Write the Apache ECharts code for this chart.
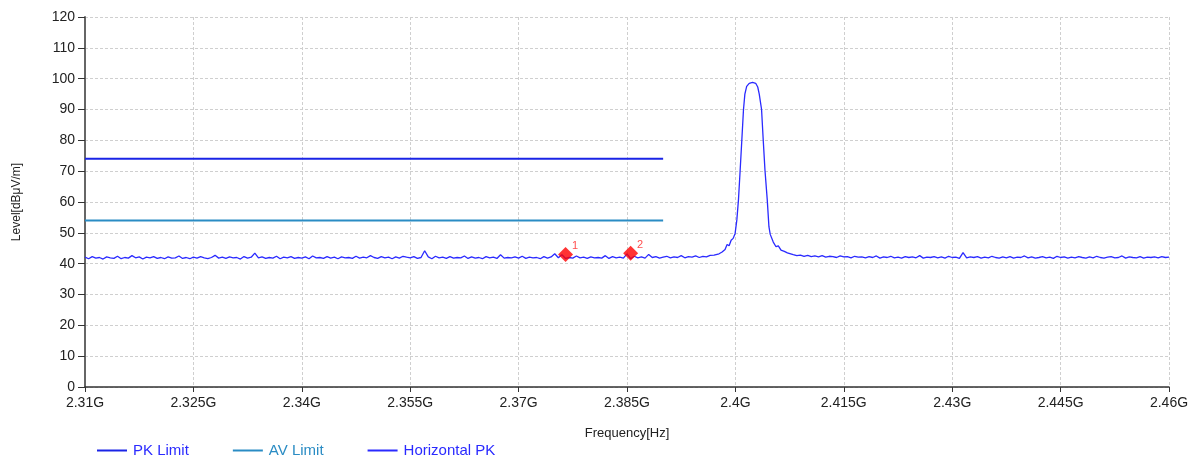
<!DOCTYPE html>
<html>
<head>
<meta charset="utf-8">
<script src="https://cdn.jsdelivr.net/npm/echarts@6/dist/echarts.min.js"></script>
<style>
html,body{margin:0;padding:0;background:#fff;}
#chart{width:1197px;height:459px;}
</style>
</head>
<body>
<div id="chart"></div>
<script>
// ---- data ----
const xTickMin = 2.31, xTickMax = 2.46, xTickStep = 0.015;
const yTickMin = 0, yTickMax = 120, yTickStep = 10;

const pkLimitLevel = 74;
const avLimitLevel = 54;
const limitStartGHz = 2.31;
const limitEndGHz = 2.39;

// sweep points (GHz): noise before the carrier
const sweepStepGHz = 0.0005;
const noiseLeftStartGHz = 2.31;
const noiseLeftLevels = [
42.1,41.6,42.3,41.8,42.0,41.5,42.2,41.9,41.7,42.4,41.6,42.0,41.8,42.6,41.9,42.2,41.5,42.1,41.9,42.3,
41.7,42.0,41.6,42.2,41.8,41.9,42.5,41.7,42.0,41.6,42.1,41.8,42.3,41.9,41.6,42.0,42.7,41.8,42.1,41.7,
42.2,41.9,42.0,41.5,42.3,41.8,42.1,43.4,41.9,42.2,41.7,42.0,41.8,42.4,41.6,42.1,41.9,42.3,41.7,42.0,
41.8,42.2,41.6,42.5,41.9,42.0,41.7,42.3,41.8,42.1,41.6,42.2,41.9,42.0,41.7,42.4,41.8,42.1,41.9,42.6,
42.0,41.7,42.3,41.9,42.1,41.6,42.2,41.8,42.4,42.1,41.9,42.3,41.7,42.0,44.2,42.2,41.6,42.4,41.9,42.1,
41.7,42.3,41.8,42.0,41.9,42.5,41.7,42.2,41.8,42.0,41.6,42.3,41.9,42.1,41.7,42.9,41.8,42.0,41.9,42.2,
41.8,42.4,41.7,42.1,41.9,42.0,41.6,42.3,41.8,42.2,43.2,41.9,42.9,41.7,42.0,41.8,42.5,41.9,42.1,41.7,
42.2,41.9,42.0,41.8,42.6,41.7,42.3,41.9,42.1,41.8,43.2,41.6,42.4,41.9,42.2,41.8,43.0,42.0,42.3,41.8,
42.1,42.4,41.9,42.2,42.0,42.6,41.9,42.3,42.1,42.5,42.0,42.4,42.2,42.7
];

// carrier region (GHz, dBuV/m)
const carrierFreqs = [
2.39705,2.39774,2.39816,2.39857,2.39885,2.39913,2.39941,2.39969,2.39996,2.40020,
2.40042,2.40066,2.40089,2.40112,2.40131,2.40156,2.40191,2.40237,2.40281,2.40309,
2.40330,2.40362,2.40385,2.40409,2.40441,2.40464,2.40482,2.40524,2.40562,2.40594,
2.40631,2.40677,2.40719,2.40745
];
const carrierLevels = [
42.8,43.2,43.8,44.6,46.2,45.8,47.6,48.2,49.8,54.2,
60.6,70.4,80.1,90.0,95.0,97.5,98.5,98.8,98.5,97.3,
95.0,90.0,80.1,70.4,60.6,52.0,49.5,47.0,45.5,45.8,
44.4,44.0,43.5,43.2
];

// noise after the carrier
const noiseRightStartGHz = 2.4080;
const noiseRightLevels = [
42.9,42.6,42.8,42.4,42.7,42.3,42.5,42.2,42.6,42.1,42.4,42.3,42.0,42.5,42.2,42.3,41.9,42.4,42.1,42.2,
41.9,42.3,42.0,42.5,41.8,42.2,42.0,42.4,41.9,42.1,41.8,42.3,42.0,42.2,41.9,42.6,41.8,42.1,42.0,42.3,
41.9,42.2,41.8,42.4,42.0,42.1,41.7,43.6,41.9,42.2,42.0,42.3,41.8,42.1,41.9,42.4,42.0,41.8,42.2,41.9,
42.3,41.8,42.1,42.0,42.5,41.9,42.2,41.8,42.0,42.3,41.9,42.1,41.7,42.4,42.0,42.2,41.8,42.1,41.9,42.3,
42.0,41.8,42.2,41.9,42.4,42.0,41.8,42.1,42.3,41.9,42.0,42.5,41.8,42.2,42.0,41.9,42.3,41.8,42.1,42.0,
42.2,41.9,42.3,42.0,42.1
];

const markerNames = ['1', '2'];
const markerFreqs = [2.3765, 2.3855];
const markerLevels = [43.0, 43.4];

// ---- build ----
const trace = [];
noiseLeftLevels.forEach((v, i) => trace.push([+(noiseLeftStartGHz + i * sweepStepGHz).toFixed(5), v]));
carrierFreqs.forEach((f, i) => trace.push([f, carrierLevels[i]]));
noiseRightLevels.forEach((v, i) => trace.push([+(noiseRightStartGHz + i * sweepStepGHz).toFixed(5), v]));

const C_PK = '#1a24e6';
const C_AV = '#2a8cc4';
const C_TR = '#2a2aff';
const FONT = 'Liberation Sans, Arial, sans-serif';

const chart = echarts.init(document.getElementById('chart'), null, {renderer: 'canvas'});
chart.setOption({
  animation: false,
  backgroundColor: '#fff',
  grid: {left: 85, right: 28, top: 17, bottom: 72, containLabel: false},
  legend: {
    top: 438, left: 92,
    itemGap: 44, itemWidth: 30, itemHeight: 2,
    icon: 'rect',
    textStyle: {fontFamily: FONT, fontSize: 15, padding: [0, 0, 0, 1]},
    data: [
      {name: 'PK Limit', textStyle: {color: C_TR}},
      {name: 'AV Limit', textStyle: {color: C_AV}},
      {name: 'Horizontal PK', textStyle: {color: C_TR}}
    ]
  },
  xAxis: {
    type: 'value', min: xTickMin, max: xTickMax, interval: xTickStep,
    name: 'Frequency[Hz]', nameLocation: 'middle', nameGap: 40,
    nameTextStyle: {fontFamily: FONT, fontSize: 13, color: '#222'},
    axisLine: {show: true, onZero: false, lineStyle: {color: '#333', width: 1.5}},
    axisTick: {show: true, length: 5, lineStyle: {color: '#333'}},
    axisLabel: {fontFamily: FONT, fontSize: 14, color: '#222', margin: 9,
      formatter: v => parseFloat(v.toFixed(3)) + 'G'},
    splitLine: {show: true, lineStyle: {color: '#cfcfcf', type: [3, 2], width: 1}}
  },
  yAxis: {
    type: 'value', min: yTickMin, max: yTickMax, interval: yTickStep,
    name: 'Level[dBμV/m]', nameLocation: 'middle', nameGap: 62,
    nameTextStyle: {fontFamily: FONT, fontSize: 12, color: '#222'},
    axisLine: {show: true, lineStyle: {color: '#666', width: 2}},
    axisTick: {show: true, length: 7, lineStyle: {color: '#333'}},
    axisLabel: {fontFamily: FONT, fontSize: 14, color: '#222', margin: 10},
    splitLine: {show: true, lineStyle: {color: '#cfcfcf', type: [3, 2], width: 1}}
  },
  series: [
    {name: 'PK Limit', type: 'line', showSymbol: false, symbol: 'none',
     data: [[limitStartGHz, pkLimitLevel], [limitEndGHz, pkLimitLevel]],
     lineStyle: {color: C_PK, width: 2}, itemStyle: {color: C_PK}, z: 3},
    {name: 'AV Limit', type: 'line', showSymbol: false, symbol: 'none',
     data: [[limitStartGHz, avLimitLevel], [limitEndGHz, avLimitLevel]],
     lineStyle: {color: C_AV, width: 2}, itemStyle: {color: C_AV}, z: 3},
    {name: 'Horizontal PK', type: 'line', showSymbol: false, symbol: 'none',
     data: trace, lineStyle: {color: C_TR, width: 1.3}, itemStyle: {color: C_TR}, z: 4},
    {name: 'markers', type: 'scatter', symbol: 'diamond', symbolSize: 15,
     itemStyle: {color: '#ff0000'}, z: 6,
     data: markerFreqs.map((f, i) => ({value: [f, markerLevels[i]], name: markerNames[i]})),
     label: {show: true, formatter: p => p.name, position: 'right', offset: [-6, -8],
       color: '#ff2020', fontSize: 11, fontFamily: FONT}}
  ]
});
</script>
</body>
</html>
